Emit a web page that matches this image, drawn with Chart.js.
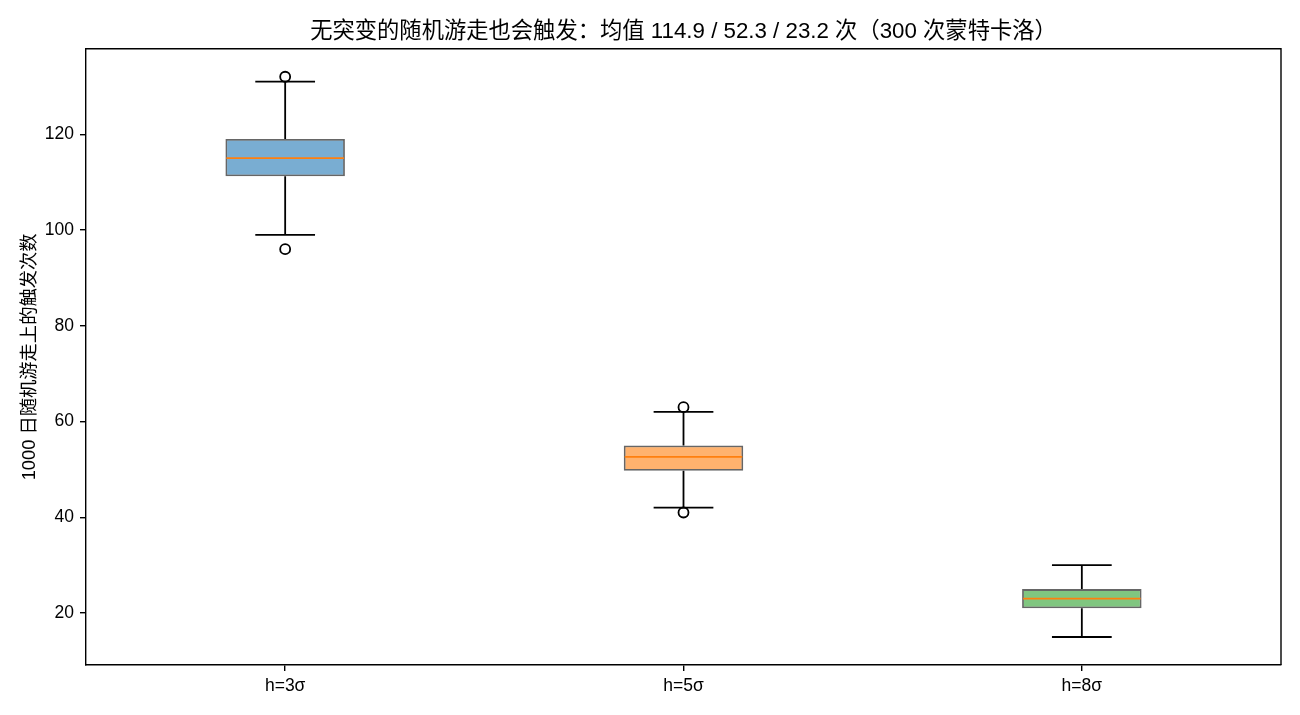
<!DOCTYPE html>
<html>
<head>
<meta charset="utf-8">
<script src="https://cdn.jsdelivr.net/npm/chart.js@4"></script>
<style>
  html, body { margin: 0; padding: 0; background: #fff; }
</style>
</head>
<body>
<canvas id="chart" width="1300" height="715"></canvas>
<script>
// box statistics
const categories = ['h=3σ', 'h=5σ', 'h=8σ'];
const q1 = [111.2, 49.7, 21];
const q3 = [119, 55, 25];
const medians = [115, 52.6, 23];
const whiskerLow = [99, 42, 15];
const whiskerHigh = [131, 62, 30];
const outliers = [[132, 96], [63, 41], []];
const yTicks = [20, 40, 60, 80, 100, 120];

const boxColors = ['rgba(31,119,180,0.6)', 'rgba(255,127,14,0.6)', 'rgba(44,160,44,0.6)'];
const FONT = '"Liberation Sans", "Noto Sans CJK SC", sans-serif';
const LW = 1.8;

const outlierPoints = [];
outliers.forEach((list, i) => {
    list.forEach(v => outlierPoints.push({ x: categories[i], y: v }));
});

// whiskers, caps, medians and the top/right frame, all placed via the scales
const boxExtras = {
    id: 'boxExtras',
    beforeDatasetsDraw(chart) {
        const ctx = chart.ctx;
        const x = chart.scales.x, y = chart.scales.y;
        const meta = chart.getDatasetMeta(0);
        const a = chart.chartArea;
        ctx.save();
        ctx.strokeStyle = '#000';
        ctx.lineWidth = 1.4;
        ctx.beginPath();
        ctx.moveTo(a.left, a.top);
        ctx.lineTo(a.right, a.top);
        ctx.lineTo(a.right, a.bottom);
        ctx.stroke();

        ctx.lineWidth = LW;
        categories.forEach((c, i) => {
            const cx = x.getPixelForValue(i);
            const half = meta.data[i].width / 4;
            ctx.beginPath();
            ctx.moveTo(cx, y.getPixelForValue(q3[i]));
            ctx.lineTo(cx, y.getPixelForValue(whiskerHigh[i]));
            ctx.moveTo(cx, y.getPixelForValue(q1[i]));
            ctx.lineTo(cx, y.getPixelForValue(whiskerLow[i]));
            ctx.moveTo(cx - half, y.getPixelForValue(whiskerHigh[i]));
            ctx.lineTo(cx + half, y.getPixelForValue(whiskerHigh[i]));
            ctx.moveTo(cx - half, y.getPixelForValue(whiskerLow[i]));
            ctx.lineTo(cx + half, y.getPixelForValue(whiskerLow[i]));
            ctx.stroke();
        });
        ctx.restore();
    },
    afterDatasetsDraw(chart) {
        const ctx = chart.ctx;
        const x = chart.scales.x, y = chart.scales.y;
        const meta = chart.getDatasetMeta(0);
        ctx.save();
        ctx.strokeStyle = '#ff7f0e';
        ctx.lineWidth = LW;
        categories.forEach((c, i) => {
            const cx = x.getPixelForValue(i);
            const half = meta.data[i].width / 2;
            const py = y.getPixelForValue(medians[i]);
            ctx.beginPath();
            ctx.moveTo(cx - half + 1, py);
            ctx.lineTo(cx + half - 1, py);
            ctx.stroke();
        });
        ctx.restore();
    }
};

new Chart(document.getElementById('chart'), {
    type: 'bar',
    data: {
        labels: categories,
        datasets: [{
            label: 'box',
            data: categories.map((c, i) => [q1[i], q3[i]]),
            backgroundColor: boxColors,
            borderColor: 'rgba(0,0,0,0.6)',
            borderWidth: LW,
            borderSkipped: false,
            barPercentage: 0.3,
            categoryPercentage: 1
        }, {
            type: 'line',
            label: 'outliers',
            data: outlierPoints,
            showLine: false,
            pointStyle: 'circle',
            pointRadius: 5,
            pointBorderWidth: LW,
            pointBorderColor: '#000',
            pointBackgroundColor: 'rgba(0,0,0,0)'
        }]
    },
    options: {
        responsive: false,
        animation: false,
        layout: { padding: { left: 0, right: 19, top: 0, bottom: 0 } },
        plugins: {
            legend: { display: false },
            tooltip: { enabled: false },
            title: {
                display: true,
                fullSize: false,
                text: '无突变的随机游走也会触发：均值 114.9 / 52.3 / 23.2 次（300 次蒙特卡洛）',
                color: '#000',
                font: { family: FONT, size: 22.3, weight: 'normal' },
                padding: { top: 18.5, bottom: 3.5 }
            }
        },
        scales: {
            x: {
                offset: true,
                grid: { display: true, offset: false, drawOnChartArea: false, drawTicks: true, tickLength: 6, lineWidth: 1.4, color: '#000' },
                border: { display: true, color: '#000', width: 1.4 },
                ticks: { color: '#000', font: { family: FONT, size: 17.5 }, padding: 5 },
                afterFit(scale) { scale.height = 50; }
            },
            y: {
                min: 9.15,
                max: 137.85,
                afterBuildTicks(scale) { scale.ticks = yTicks.map(v => ({ value: v })); },
                grid: { display: true, drawOnChartArea: false, drawTicks: true, tickLength: 6, lineWidth: 1.4, color: '#000' },
                border: { display: true, color: '#000', width: 1.4 },
                ticks: { color: '#000', font: { family: FONT, size: 17.5 }, padding: 6 },
                title: {
                    display: true,
                    text: '1000 日随机游走上的触发次数',
                    color: '#000',
                    font: { family: FONT, size: 18.3 },
                    padding: { top: 19, bottom: 0 }
                },
                afterFit(scale) { scale.width = 86; }
            }
        }
    },
    plugins: [boxExtras]
});
</script>
</body>
</html>
